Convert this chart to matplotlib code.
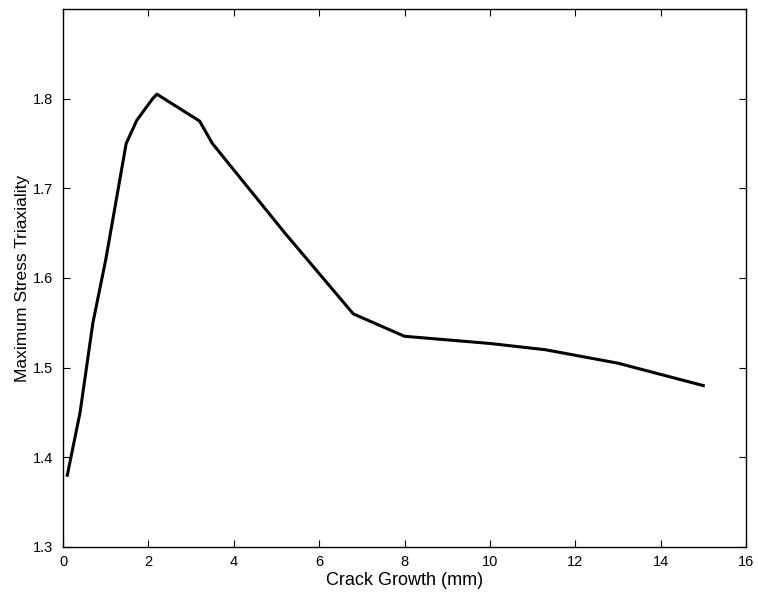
import matplotlib
matplotlib.use("Agg")
import matplotlib.pyplot as plt

crack_growth = [0.1, 0.4, 0.7, 1.0, 1.48, 1.73, 2.1, 2.2, 3.2, 3.5, 5.2, 6.8, 8.0, 10.0, 11.3, 13.0, 15.0]
triaxiality = [1.38, 1.45, 1.55, 1.62, 1.75, 1.776, 1.80, 1.805, 1.775, 1.75, 1.65, 1.56, 1.535, 1.527, 1.52, 1.505, 1.48]
xticks = [0, 2, 4, 6, 8, 10, 12, 14, 16]
yticks = [1.3, 1.4, 1.5, 1.6, 1.7, 1.8]

plt.rcParams['font.family'] = ['Liberation Sans', 'DejaVu Sans']
fig = plt.figure(figsize=(7.58, 5.95), dpi=100)
ax = fig.add_axes([63/758, 48/595, (746-63)/758, (547-9)/595])
ax.plot(crack_growth, triaxiality, color='black', linewidth=2.2)
ax.set_xlim(0, 16)
ax.set_ylim(1.3, 1.9)
ax.set_xticks(xticks)
ax.set_yticks(yticks)
ax.set_yticklabels([f"{v:.1f}" for v in yticks])
ax.tick_params(direction='in', top=True, right=True, length=5, width=0.8, labelsize=10.5)
ax.tick_params(axis='x', pad=6)
ax.tick_params(axis='y', pad=7)
for s in ax.spines.values():
    s.set_linewidth(1.0)
ax.set_xlabel('Crack Growth (mm)', fontsize=13, labelpad=2)
ax.set_ylabel('Maximum Stress Triaxiality', fontsize=12.5, labelpad=2)
fig.savefig('out.png', dpi=100)
